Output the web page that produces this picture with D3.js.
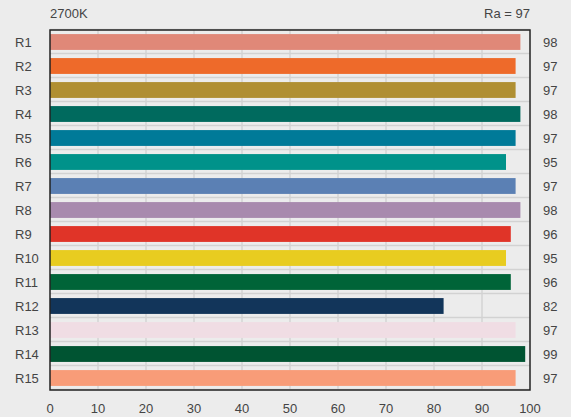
<!DOCTYPE html>
<html><head><meta charset="utf-8">
<script src="https://cdn.jsdelivr.net/npm/d3@7"></script>
<style>
html,body{margin:0;padding:0;background:#ececec;}
svg{display:block;font-family:"Liberation Sans",Arial,sans-serif;}
</style></head>
<body><svg id="c" width="571" height="417"></svg>
<script>
const categories = ["R1","R2","R3","R4","R5","R6","R7","R8","R9","R10","R11","R12","R13","R14","R15"];
const values = [98,97,97,98,97,95,97,98,96,95,96,82,97,99,97];
const colors = ["#e08878","#ee6a2a","#b08f32","#006a5e","#007a98","#00928a","#5b80b4","#a88aae","#e03428","#e8cc20","#006438","#12355a","#f0dde4","#005432","#f89c78"];
const xTicks = [0,10,20,30,40,50,60,70,80,90,100];
const titleLeft = "2700K";
const titleRight = "Ra = 97";

const svg = d3.select("#c");
const L = 50, R = 530, T = 30, B = 390;
svg.append("rect").attr("width",571).attr("height",417).attr("fill","#ececec");

const x = d3.scaleLinear().domain([0,100]).range([L,R]);
const y = d3.scaleBand().domain(categories).range([T,B]).paddingInner(0.34).paddingOuter(0.17);

// vertical grid
svg.append("g").selectAll("line").data(xTicks.slice(1,-1)).join("line")
  .attr("x1",d=>x(d)).attr("x2",d=>x(d)).attr("y1",T).attr("y2",B)
  .attr("stroke","#cfcfcf").attr("stroke-width",1.2);
// horizontal grid at band boundaries
const step = y.step();
svg.append("g").selectAll("line").data(d3.range(0,categories.length+1)).join("line")
  .attr("x1",L).attr("x2",R)
  .attr("y1",d=>T + d*step - 0.5).attr("y2",d=>T + d*step - 0.5)
  .attr("stroke","#d2d2d2").attr("stroke-width",1.5);

// bars
svg.append("g").selectAll("rect").data(categories).join("rect")
  .attr("x",x(0)).attr("y",d=>y(d))
  .attr("width",(d,i)=>x(values[i])-x(0)).attr("height",y.bandwidth())
  .attr("fill",(d,i)=>colors[i]);

// box
svg.append("rect").attr("x",L).attr("y",T).attr("width",R-L).attr("height",B-T)
  .attr("fill","none").attr("stroke","#222").attr("stroke-width",1.5);

// labels
const txt = "#444";
svg.append("g").selectAll("text").data(categories).join("text")
  .attr("x",15).attr("y",d=>y(d)+y.bandwidth()/2).attr("dy","0.35em")
  .attr("font-size",13).attr("fill",txt).text(d=>d);
svg.append("g").selectAll("text").data(values).join("text")
  .attr("x",543).attr("y",(d,i)=>y(categories[i])+y.bandwidth()/2).attr("dy","0.35em")
  .attr("font-size",13).attr("fill",txt).text(d=>d);

// x axis tick labels
svg.append("g").selectAll("text").data(xTicks).join("text")
  .attr("x",d=>x(d)).attr("y",408).attr("dy","0.35em").attr("text-anchor","middle")
  .attr("font-size",13).attr("fill",txt).text(d=>d);

svg.append("text").attr("x",L).attr("y",13).attr("dy","0.35em").attr("font-size",13).attr("fill",txt).text(titleLeft);
svg.append("text").attr("x",R).attr("y",13).attr("dy","0.35em").attr("text-anchor","end").attr("font-size",13).attr("fill",txt).text(titleRight);
</script></body></html>
